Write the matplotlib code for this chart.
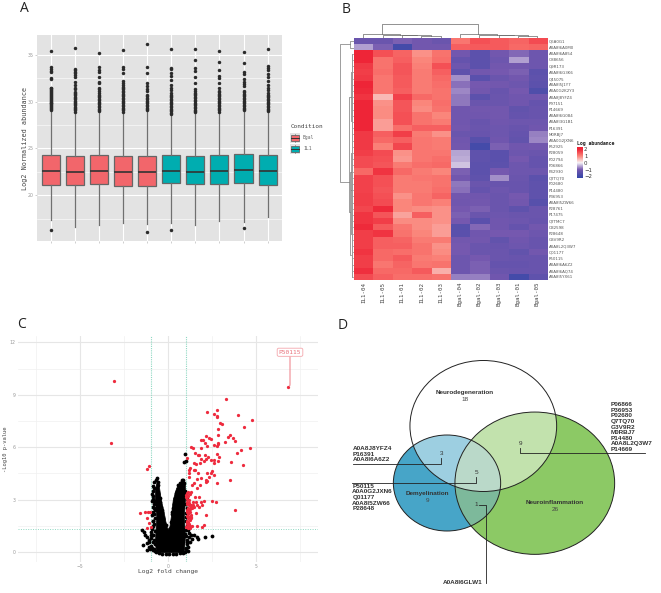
import matplotlib
matplotlib.use("Agg")
import numpy as np
import matplotlib.pyplot as plt
from matplotlib.colors import LinearSegmentedColormap, Normalize
from matplotlib.patches import Ellipse, Rectangle

W, H = 661, 593
MONO = "DejaVu Sans Mono"
SANS = "Liberation Sans"

# --- A: boxplots ---
box_names = ["Bgal"] * 5 + ["IL1"] * 5
box_q1 = [21.07, 21.07, 21.24, 21.03, 21.0, 21.3, 21.17, 21.2, 21.35, 21.14]
box_med = [22.6, 22.52, 22.63, 22.49, 22.45, 22.63, 22.45, 22.56, 22.7, 22.56]
box_q3 = [24.27, 24.23, 24.34, 24.2, 24.2, 24.27, 24.2, 24.27, 24.4, 24.27]
box_lo = [17.37, 16.66, 16.85, 17.0, 16.95, 17.1, 16.85, 17.3, 17.2, 17.65]
box_hi = [29.0, 28.85, 28.95, 28.85, 28.95, 28.6, 28.75, 28.75, 29.05, 28.85]
box_out = [
    [35.4, 33.7, 33.5, 33.3, 33.2, 32.5, 32.4, 31.5, 31.4, 31.3, 31.2, 31.1, 31.0, 30.9, 30.8, 30.7, 30.6, 30.5,
     30.4, 30.3, 30.2, 30.1, 30.0, 29.9, 29.8, 29.7, 29.6, 29.5, 29.4, 29.3, 29.2, 29.1, 16.27],
    [35.75, 33.45, 33.35, 33.2, 33.1, 32.85, 32.6, 32.1, 31.8, 31.5, 31.3, 31.05, 30.9, 30.8, 30.65, 30.5, 30.4,
     30.25, 30.1, 30.0, 29.85, 29.7, 29.6, 29.45, 29.3, 29.2, 29.05, 28.9],
    [35.2, 33.7, 33.35, 33.2, 32.65, 32.1, 31.95, 31.5, 31.3, 31.15, 30.9, 30.75, 30.6, 30.45, 30.3, 30.15, 30.0,
     29.85, 29.7, 29.55, 29.4, 29.25, 29.1, 29.0],
    [35.5, 33.65, 33.45, 33.1, 32.2, 31.95, 31.75, 31.6, 31.45, 31.3, 31.15, 31.0, 30.85, 30.7, 30.55, 30.4, 30.25,
     30.1, 29.95, 29.8, 29.65, 29.5, 29.35, 29.2, 29.05, 28.9],
    [36.1, 33.7, 33.1, 32.0, 31.65, 31.3, 31.1, 30.7, 30.55, 30.4, 30.25, 30.1, 29.95, 29.8, 29.65, 29.5, 29.35,
     29.2, 29.05, 16.1],
    [35.65, 33.6, 33.45, 33.1, 32.7, 32.3, 31.75, 31.5, 31.25, 30.9, 30.75, 30.6, 30.45, 30.3, 30.15, 30.0, 29.85,
     29.7, 29.55, 29.4, 29.25, 29.1, 28.95, 28.8, 28.65, 16.27],
    [35.65, 34.4, 33.55, 33.3, 32.65, 31.95, 31.35, 31.15, 30.95, 30.8, 30.65, 30.5, 30.35, 30.2, 30.05, 29.9, 29.75,
     29.6, 29.45, 29.3, 29.15, 29.0, 28.85],
    [35.4, 34.25, 33.35, 32.7, 32.55, 32.0, 31.45, 31.15, 31.0, 30.85, 30.7, 30.55, 30.4, 30.25, 30.1, 29.95, 29.8,
     29.65, 29.5, 29.35, 29.2, 29.05, 28.9],
    [35.25, 34.1, 33.2, 32.95, 32.4, 32.1, 31.9, 31.65, 31.15, 31.0, 30.85, 30.7, 30.55, 30.4, 30.25, 30.1, 29.95,
     29.8, 29.65, 29.5, 29.35, 29.2, 29.1, 16.55],
    [35.65, 33.8, 33.55, 33.35, 32.95, 32.65, 32.2, 31.75, 31.5, 31.25, 30.9, 30.75, 30.6, 30.45, 30.3, 30.15, 30.0,
     29.85, 29.7, 29.55, 29.4, 29.25, 29.1, 28.95],
]
box_colors = {"Bgal": "#F2666B", "IL1": "#00ADB0"}

# --- B: heatmap ---
heat_cols = ["IL1-04", "IL1-05", "IL1-01", "IL1-02", "IL1-03", "Bgal-04", "Bgal-02", "Bgal-03", "Bgal-01", "Bgal-05"]
heat_rows = ["Q6A0G1", "A0A8I6A0M0", "A0A8I6A854", "O88656", "Q9R173", "A0A8I6G3K6", "Q45075", "A0A8I5J1Y7",
             "A0A0G2K2Y3", "A0A8J8YFZ4", "P97151", "P14669", "A0A8I6G084", "A0A8I3G1B1", "P16391", "M0RBJ7",
             "A0A0G2JXN6", "P52925", "P28059", "P02794", "P06866", "P42930", "Q7TQ70", "P02680", "P14480", "P36953",
             "A0A8I5ZW66", "P28761", "P17475", "Q7TMC7", "O32598", "P28648", "G3V9R2", "A0A8L2Q3W7", "Q01177",
             "P50115", "A0A8I6A6Z2", "A0A8I6AQ74", "A0A8I5YX61"]
heat_vals = [
    [-1.2, -1.2, -0.95, -1.05, -1.2, 1.1, 1.5, 1.4, 1.3, 1.55],
    [-0.55, -0.95, -1.9, -1.05, -1.05, 1.35, 1.4, 1.4, 1.25, 1.3],
    [1.95, 1.5, 1.3, 0.85, 1.15, -1.05, -1.45, -1.05, -0.9, -1.15],
    [1.95, 1.15, 1.35, 0.95, 1.2, -1.3, -1.45, -1.15, -0.55, -1.15],
    [1.75, 1.15, 1.45, 1.0, 1.5, -1.15, -1.45, -1.05, -1.05, -1.15],
    [1.7, 1.2, 1.45, 1.05, 1.35, -1.4, -1.05, -1.0, -0.95, -1.45],
    [1.75, 1.1, 1.4, 1.05, 1.25, -0.65, -1.5, -1.2, -1.05, -1.4],
    [1.95, 1.1, 1.4, 1.05, 1.2, -0.85, -1.0, -1.05, -1.15, -1.45],
    [1.9, 1.1, 1.35, 1.05, 1.15, -0.7, -1.05, -1.25, -1.0, -1.7],
    [1.8, 0.5, 1.65, 1.25, 1.15, -0.8, -1.45, -1.2, -1.1, -1.1],
    [1.95, 0.85, 1.45, 0.95, 1.2, -0.8, -1.2, -1.2, -1.1, -1.3],
    [1.95, 0.9, 1.45, 0.9, 1.15, -1.1, -1.05, -1.05, -1.35, -1.25],
    [1.95, 0.9, 1.5, 1.15, 0.95, -1.1, -1.1, -1.05, -1.3, -1.25],
    [1.95, 0.75, 1.5, 1.15, 1.05, -1.1, -1.25, -1.1, -1.15, -1.15],
    [1.95, 0.75, 1.2, 1.35, 1.35, -1.05, -1.2, -1.15, -1.25, -1.1],
    [1.75, 1.35, 1.7, 1.05, 0.85, -1.2, -1.25, -1.15, -1.3, -0.75],
    [1.75, 1.25, 1.35, 1.1, 1.05, -1.1, -1.55, -1.1, -1.35, -0.7],
    [1.75, 1.0, 1.6, 1.1, 1.05, -1.05, -1.9, -0.95, -1.1, -1.05],
    [1.7, 1.55, 0.85, 1.1, 1.1, -0.5, -1.4, -1.5, -1.15, -1.2],
    [1.55, 1.5, 0.8, 1.1, 1.2, -0.45, -1.4, -1.5, -1.0, -1.3],
    [1.55, 1.45, 1.05, 1.2, 1.25, -0.3, -1.45, -1.45, -1.15, -1.3],
    [1.25, 1.8, 1.25, 1.05, 0.95, -0.95, -1.45, -1.0, -1.15, -1.15],
    [1.65, 1.5, 1.05, 1.1, 1.15, -1.05, -1.4, -0.65, -1.2, -1.45],
    [1.65, 1.5, 1.05, 1.05, 1.15, -0.8, -1.2, -1.25, -1.25, -1.4],
    [1.65, 1.45, 1.05, 1.05, 1.2, -0.85, -1.3, -1.15, -1.25, -1.4],
    [1.7, 1.5, 0.85, 1.1, 1.3, -1.05, -1.1, -1.2, -1.0, -1.4],
    [1.7, 1.55, 0.95, 1.1, 1.0, -1.1, -1.05, -1.2, -1.05, -1.55],
    [1.6, 1.9, 0.95, 0.9, 0.85, -1.0, -0.95, -1.2, -1.4, -1.2],
    [1.8, 1.45, 0.7, 1.35, 0.85, -0.95, -1.2, -1.15, -1.2, -1.2],
    [1.8, 1.7, 0.9, 0.9, 0.85, -1.0, -1.5, -1.1, -1.15, -1.25],
    [1.9, 1.4, 1.1, 0.9, 0.75, -1.55, -0.9, -1.1, -1.3, -1.05],
    [1.7, 1.8, 1.15, 0.95, 0.75, -1.5, -1.1, -1.0, -1.0, -1.15],
    [1.7, 1.35, 1.3, 1.05, 1.05, -1.05, -1.05, -1.35, -1.1, -1.25],
    [1.7, 1.35, 1.35, 1.15, 0.85, -1.0, -1.2, -1.25, -1.15, -1.25],
    [1.8, 1.25, 1.2, 1.15, 0.9, -1.0, -1.2, -1.2, -1.35, -1.05],
    [1.7, 1.25, 1.4, 1.05, 1.0, -1.15, -1.0, -1.2, -1.25, -1.25],
    [1.7, 1.1, 1.3, 1.1, 1.15, -1.15, -0.95, -1.3, -1.3, -1.25],
    [1.85, 1.25, 1.25, 1.4, 0.6, -1.15, -0.95, -1.2, -1.25, -1.25],
    [1.55, 1.35, 1.2, 1.2, 1.15, -0.75, -0.75, -1.1, -1.9, -1.4],
]
legend_ticks = [2, 1, 0, -1, -2]

# column tree: left x, left height, right x, right height, merge height
col_tree = [
    (3.5, 0, 4.5, 0, 2.2), (2.5, 0, 4.0, 2.2, 3.0), (1.5, 0, 3.25, 3.0, 3.5), (0.5, 0, 2.4, 3.5, 4.2),
    (8.5, 0, 9.5, 0, 1.8), (7.5, 0, 9.0, 1.8, 2.6), (6.5, 0, 8.3, 2.6, 2.9), (5.5, 0, 7.4, 2.9, 4.0),
    (1.45, 4.2, 6.45, 4.0, 14.5),
]
# row tree: top row, top depth, bottom row, bottom depth, merge depth
row_tree = [
    (0.5, 0, 1.5, 0, 3.5), (2.5, 1.5, 8.5, 1.5, 2.2), (8.5, 1.5, 18, 1.5, 2.0), (18.5, 1.5, 24.5, 1.5, 2.4),
    (24.5, 1.5, 31.5, 1.5, 2.6), (31.5, 1.5, 38.5, 1.5, 2.2), (5.5, 2.2, 13.3, 2.0, 3.2), (21.5, 2.4, 35, 2.6, 3.6),
    (9.4, 3.2, 28, 3.6, 4.6), (1.0, 3.5, 23.2, 4.6, 14.2),
]

# --- C: volcano ---
red_x = [-3.07, -3.28, 6.78, 3.28, 2.78, 2.2, 2.58, 2.78, 2.78, 3.98, 4.75, 2.94, 3.03, 4.32, 2.82, 2.82, 2.14, 2.33,
         2.42, 1.86, 1.95, 3.52, 3.39, 3.66, 3.81, 3.2, 2.84, 2.84, 2.78, 2.61, 2.06, 2.22, 1.84, 1.31, 1.42, 4.64,
         4.11, 3.88, 1.53, 1.69, 1.76, 2.78, 2.86, 2.1, 2.23, 1.08, 1.88, 2.14, 2.05, 2.44, 2.58, 2.82, 3.54, 1.48,
         1.57, 1.82, 2.61, 4.24, 1.25, 1.16, 1.44, 1.5, 2.48, 1.19, 1.7, 2.18, 2.4, 2.58, 1.16, 1.61, 1.84, 2.33,
         2.14, 2.22, 2.14, 3.48, 1.48, 2.78, 1.36, 1.8, 1.61, 1.27, 1.14, 1.04, 1.23, 1.1, 1.0, 1.76, 1.52, 2.5,
         2.73, 2.03, 1.04, 1.19, 1.38, 1.57, 1.86, 1.16, 1.27, 1.44, 1.61, 1.74, 1.89, 1.23, 3.81, 1.04, 1.14, 1.27,
         1.57, 2.12, 1.1, 1.23, 1.08, 1.33, 1.65, 1.89, 2.0, 1.1, 1.23, -1.61, -1.33, -1.14, -1.04, -1.19, -1.1,
         -1.23, -1.0, -1.12, -1.19,
         1.03, 1.08, 1.15, 1.06, 1.2, 1.12, 1.3, 1.05, 1.18, 1.36, 1.1, 1.25, 1.04, 1.16, 1.3, 1.07, 1.2, 1.42,
         1.06, 1.14, 1.28, 1.03, 1.12, 1.22]
red_y = [9.79, 6.22, 9.43, 8.74, 8.13, 8.03, 7.9, 7.75, 7.79, 7.84, 7.58, 7.37, 7.35, 7.14, 7.06, 6.7, 6.66, 6.53,
         6.45, 6.41, 6.43, 6.7, 6.6, 6.53, 6.37, 6.28, 6.26, 6.16, 6.09, 6.13, 6.26, 6.07, 5.97, 6.01, 5.97, 5.93,
         5.82, 5.69, 5.69, 5.57, 5.53, 5.61, 5.46, 5.53, 5.46, 5.4, 5.34, 5.31, 5.23, 5.29, 5.25, 5.21, 5.13, 5.11,
         5.02, 5.1, 5.08, 4.98, 4.83, 4.69, 4.69, 4.69, 4.66, 4.5, 4.5, 4.52, 4.5, 4.43, 4.31, 4.2, 4.24, 4.27,
         4.12, 4.05, 4.0, 4.1, 3.97, 3.93, 3.84, 3.82, 3.65, 3.45, 3.42, 3.36, 3.32, 3.21, 3.17, 3.13, 3.17, 2.92,
         2.84, 2.94, 2.88, 2.82, 2.88, 2.88, 2.84, 2.69, 2.6, 2.6, 2.71, 2.56, 2.69, 2.46, 2.4, 2.31, 2.21, 2.14,
         2.21, 2.1, 1.93, 1.83, 1.7, 1.49, 1.49, 1.45, 1.55, 1.49, 1.35, 2.25, 2.31, 2.27, 2.27, 1.97, 1.64, 1.35,
         1.41, 4.92, 4.77,
         3.25, 3.05, 2.98, 2.75, 2.75, 2.55, 2.72, 2.4, 2.42, 2.55, 2.15, 2.28, 2.05, 1.98, 2.02, 1.75, 1.62, 2.7,
         1.58, 1.72, 1.95, 1.42, 1.38, 1.5]
black_x = [-0.9, -0.85, -0.8, -0.66, -0.72, -0.6, -0.86, -0.95, -0.8, -0.85, -0.78, -0.95, -0.85, -0.9, -0.95, -1.0,
           -1.5, -1.4, -1.3, -1.2, -1.1, -1.45, -1.2, -1.0, -1.05, -0.9, -0.85, -0.8, -0.75, 0.95, 0.91, 0.98, 0.75,
           0.85, 0.9, 0.65, 0.55, 0.95, 0.5, 1.0, 1.05, 1.1, 1.0, 1.2, 1.3, 1.45, 1.6, 2.08, 2.46, 1.7, 1.25, 1.35,
           1.15, 1.1,
           -0.82, -0.92, -0.88, -0.79, -0.84, -0.9, -0.8, -0.76, -0.86, -0.82, -0.92, -0.78, -0.98, -0.88, -0.96,
           -0.84, -1.08, -0.78, -1.12, -0.92, -1.22, -0.86, -0.56, -0.5, -0.44, -0.36, -0.3, -0.24, -0.16, -0.58,
           -0.46, -0.34, 0.14, 0.22, 0.3, 0.38, 0.46, 0.58, 0.66, 0.36, 0.26, 0.2,
           1.02, 1.04, 0.98, 1.06, 1.0, 1.03, 0.99, 1.05, 1.02, 0.97, 1.08, 1.04, 1.0, 1.12,
           -0.55, -0.35, -0.15, 0.05, 0.25, 0.45, 0.65, 0.82, -0.68, 0.96]
black_y = [3.5, 3.8, 4.0, 4.24, 4.15, 4.0, 3.2, 2.95, 2.9, 2.6, 2.4, 2.1, 1.8, 1.5, 1.3, 1.0, 1.25, 1.15, 1.0, 0.85,
           0.7, 0.4, 0.5, 0.35, 0.15, 0.6, 1.0, 0.2, 0.05, 5.59, 5.17, 5.23, 4.1, 4.15, 3.95, 3.7, 3.85, 3.5, 3.5,
           0.9, 0.6, 0.3, 0.15, 0.85, 1.0, 0.95, 0.85, 0.84, 0.92, 0.72, 0.55, 0.75, 1.1, 1.25,
           3.65, 3.35, 3.05, 2.75, 2.5, 2.3, 2.15, 1.95, 1.75, 1.6, 1.4, 1.2, 1.15, 0.95, 0.8, 0.7, 0.55, 0.45, 0.3,
           0.25, 0.12, 0.1, 3.3, 3.1, 2.6, 2.3, 1.9, 1.65, 1.55, 3.85, 2.85, 2.4, 1.7, 2.3, 2.75, 3.1, 3.4, 3.2,
           3.95, 3.0, 2.55, 2.2,
           3.3, 3.05, 2.75, 2.5, 2.25, 2.0, 1.75, 1.5, 1.25, 1.05, 0.7, 0.45, 0.25, 0.05,
           -0.08, -0.1, -0.1, -0.1, -0.1, -0.1, -0.08, -0.06, 0.02, 0.03]
# outline of the solid part of the cloud
cloud_x = [-0.66, -0.74, -0.7, -0.66, -0.74, -0.74, -0.63, -0.51, -0.4, -0.19, -0.09, 0.0, 0.09, 0.17, 0.28, 0.47,
           0.76, 0.97, 0.97, 0.91, 0.97, 0.91]
cloud_y = [-0.04, 0.5, 1.26, 2.02, 2.98, 3.55, 4.03, 3.74, 2.98, 2.02, 1.45, 1.3, 1.45, 2.02, 2.98, 3.65, 4.08, 3.93,
           2.98, 2.02, 0.88, -0.04]
fc_cut = 1.0
p_cut = 1.3

# --- D: venn ---
venn_names = ["Neurodegeneration", "Demyelination", "Neuroinflammation"]
venn_counts = [18, 9, 26]
ids_3 = ["A0A8J8YFZ4", "P16391", "A0A8I6A6Z2"]
ids_5 = ["P50115", "A0A0G2JXN6", "Q01177", "A0A8I5ZW66", "P28648"]
ids_9 = ["P06866", "P36953", "P02680", "Q7TQ70", "G3V9R2", "M0RBJ7", "P14480", "A0A8L2Q3W7", "P14669"]
ids_1 = ["A0A8I6GLW1"]


def px_axes(x0, y0, x1, y1):
    return fig.add_axes([x0 / W, 1 - y1 / H, (x1 - x0) / W, (y1 - y0) / H])


fig = plt.figure(figsize=(W / 100, H / 100), dpi=100)

# overlay in pixel units, for letters, legends and the venn
ov = fig.add_axes([0, 0, 1, 1], zorder=5)
ov.set_xlim(0, W)
ov.set_ylim(H, 0)
ov.axis("off")
ov.patch.set_alpha(0)

for letter, lx, ly in [("A", 20, 12), ("B", 342, 13), ("C", 17, 328), ("D", 338, 329)]:
    ov.text(lx, ly, letter, fontsize=10, family="Open Sans", color="#222222", va="baseline")

# A
ax = px_axes(37, 35, 282, 241)
ax.set_facecolor("#E3E3E3")
stats = []
for i in range(10):
    stats.append({"q1": box_q1[i], "med": box_med[i], "q3": box_q3[i], "whislo": box_lo[i], "whishi": box_hi[i],
                  "fliers": box_out[i]})
parts = ax.bxp(stats, positions=np.arange(1, 11), widths=0.75, patch_artist=True, showcaps=False,
               boxprops=dict(edgecolor="#666666", linewidth=0.9),
               whiskerprops=dict(color="#707070", linewidth=0.9),
               medianprops=dict(color="#333333", linewidth=1.2),
               flierprops=dict(marker="o", markersize=2.5, markerfacecolor="#2b2b2b", markeredgecolor="#2b2b2b",
                               markeredgewidth=0))
for patch, name in zip(parts["boxes"], box_names):
    patch.set_facecolor(box_colors[name])
ax.set_xlim(0.417, 10.6)
ax.set_ylim(15.13, 37.1)
ax.set_xticks(np.arange(1, 11))
ax.set_xticklabels([])
ax.set_yticks([20, 25, 30, 35])
ax.set_yticks([17.5, 22.5, 27.5, 32.5], minor=True)
ax.grid(True, which="major", color="white", linewidth=0.8)
ax.grid(True, which="minor", axis="y", color="white", linewidth=0.4)
ax.set_axisbelow(True)
ax.tick_params(axis="both", which="major", length=1.5, width=0.4, color="#aaaaaa", labelsize=3.4,
               labelcolor="#999999", pad=1)
ax.tick_params(axis="both", which="minor", length=0)
ax.set_ylabel("Log2 Normalized abundance", fontsize=4.9, family=MONO, color="#444444", labelpad=-0.5)
for s in ax.spines.values():
    s.set_visible(False)

ov.text(290.7, 126, "Condition", fontsize=4.3, family=MONO, color="#444444", va="center")
for (key_y, name) in [(133, "Bgal"), (144, "IL1")]:
    ov.add_patch(Rectangle((290, key_y), 10, 9.5, fc="#E3E3E3", ec="none"))
    ov.plot([295, 295], [key_y + 0.5, key_y + 9], color="#777777", lw=0.5)
    ov.add_patch(Rectangle((291.2, key_y + 2), 7.6, 5.5, fc=box_colors[name], ec="#666666", lw=0.6, zorder=3))
    ov.plot([291.2, 298.8], [key_y + 4.75, key_y + 4.75], color="#333333", lw=0.7, zorder=4)
    ov.text(303, key_y + 4.75, name, fontsize=3.4, family=MONO, color="#666666", va="center")

# B
heat_cmap = LinearSegmentedColormap.from_list(
    "heat", [(0.0, "#3547A8"), (0.27, "#7558AF"), (0.5, "#F7F3F7"), (0.72, "#FB857A"), (0.95, "#EE2336"),
             (1.0, "#EE2336")])
heat_norm = Normalize(vmin=-2.2, vmax=2.2)
hm = px_axes(353.8, 38.3, 547, 280)
hm.imshow(np.array(heat_vals), cmap=heat_cmap, norm=heat_norm, aspect="auto", interpolation="nearest",
          extent=(0, 10, 39, 0))
hm.set_xticks(np.arange(10) + 0.5)
hm.set_xticklabels(heat_cols, rotation=90, fontsize=4.2, family=MONO, color="#444444")
hm.set_yticks(np.arange(39) + 0.5)
hm.set_yticklabels(heat_rows, fontsize=2.9, color="#555555")
hm.yaxis.tick_right()
hm.tick_params(length=0, pad=1.2)
for s in hm.spines.values():
    s.set_visible(False)

top = px_axes(353.8, 22, 547, 38)
top.set_xlim(0, 10)
top.set_ylim(0, 16)
top.axis("off")
for xl, hl, xr, hr, h in col_tree:
    top.plot([xl, xl, xr, xr], [hl, h, h, hr], color="#666666", lw=0.5)

side = px_axes(338.5, 38.3, 353.8, 280)
side.set_xlim(15.3, 0)
side.set_ylim(39, 0)
side.axis("off")
for ra, da, rb, db, d in row_tree:
    side.plot([da, d, d, db], [ra, ra, rb, rb], color="#777777", lw=0.5)
for r in range(2, 39):
    side.plot([0, 1.5], [r + 0.5, r + 0.5], color="#999999", lw=0.5)
side.plot([1.5, 1.5], [2.5, 38.5], color="#999999", lw=0.7)

cb = px_axes(577.3, 147.3, 582.7, 177.7)
legend_vals = np.linspace(2.25, -2.2, 60).reshape(-1, 1)
cb.imshow(legend_vals, cmap=heat_cmap, norm=heat_norm, aspect="auto", extent=(0, 1, -2.2, 2.25))
cb.set_xticks([])
cb.set_yticks(legend_ticks)
cb.set_yticklabels([str(t).replace("-", "\u2212") for t in legend_ticks], fontsize=3.9, color="#333333")
cb.yaxis.tick_right()
cb.tick_params(length=0, pad=1)
for s in cb.spines.values():
    s.set_visible(False)
ov.text(577.3, 143, "Log abundance", fontsize=3.5, family=MONO, fontweight="bold", color="#222222", va="center")

# C
vo = px_axes(18, 336, 318, 561.7)
vo.set_xlim(-8.54, 8.5)
vo.set_ylim(-0.55, 12.36)
vo.set_xticks([-5, 0, 5])
vo.set_xticks([-7.5, -2.5, 2.5, 7.5], minor=True)
vo.set_yticks([0, 3, 6, 9, 12])
vo.set_yticks([1.5, 4.5, 7.5, 10.5], minor=True)
vo.grid(True, which="major", color="#E6E6E6", linewidth=0.8)
vo.grid(True, which="minor", color="#F0F0F0", linewidth=0.5)
vo.set_axisbelow(True)
vo.tick_params(which="both", length=0)
vo.tick_params(labelsize=3.3, labelcolor="#999999", pad=1.5)
for s in vo.spines.values():
    s.set_visible(False)
# threshold lines sit behind the points
for v in (-fc_cut, fc_cut):
    vo.axvline(v, color="#8FD8C2", lw=0.8, ls=(0, (1, 1)), zorder=1.5)
vo.axhline(p_cut, color="#8FD8C2", lw=0.7, ls=(0, (1, 1.5)), zorder=1.5)
vo.fill(cloud_x, cloud_y, color="black", lw=0.5, zorder=2)
vo.scatter(black_x, black_y, s=7.5, color="black", linewidths=0, zorder=2)
vo.scatter(red_x, red_y, s=5.5, color="#EE2B3E", linewidths=0, zorder=3)
vo.annotate("P50115", xy=(red_x[2], red_y[2]), xytext=(6.91, 11.43), fontsize=4.5, family=MONO, color="#E8707A",
            ha="center", va="center", zorder=6,
            bbox=dict(boxstyle="round,pad=0.25", fc="white", ec="#F4A6AC", lw=0.6),
            arrowprops=dict(arrowstyle="-", color="#F08A92", lw=0.8, shrinkA=0, shrinkB=1.5,
                            connectionstyle="angle,angleA=90,angleB=0,rad=3"))
vo.set_xlabel("Log2 fold change", fontsize=4.5, family=MONO, color="#444444", labelpad=0.5)
vo.set_ylabel("-Log10 p-value", fontsize=3.9, family=MONO, color="#444444", labelpad=1.5)

# D
blue = Ellipse((447, 483), 107.3, 96, fc="#47A5C8", ec="none")
green = Ellipse((534.8, 483.2), 159.7, 142.3, fc="#8CC965", ec="none")
ov.add_patch(blue)
ov.add_patch(green)
both = Ellipse((534.8, 483.2), 159.7, 142.3, fc="#7DB99B", ec="none")
ov.add_patch(both)
both.set_clip_path(Ellipse((447, 483), 107.3, 96, transform=ov.transData))
ov.add_patch(Ellipse((483.3, 426), 146.7, 131, fc=(1, 1, 1, 0.47), ec="none"))
for cx, cy, ew, eh in [(447, 483, 107.3, 96), (534.8, 483.2, 159.7, 142.3), (483.3, 426, 146.7, 131)]:
    ov.add_patch(Ellipse((cx, cy), ew, eh, fc="none", ec="#222222", lw=0.7, zorder=3))

for name, n, tx, ty in zip(venn_names, venn_counts, [464.7, 427, 555], [392.7, 494, 502.7]):
    ov.text(tx, ty, name, fontsize=4.6, family=SANS, fontweight="bold", color="#333333", ha="center", va="center",
            zorder=4)
    ov.text(tx, ty + 6.7, str(n), fontsize=4.6, family=SANS, color="#444444", ha="center", va="center", zorder=4)

for n, tx, ty in [(3, 441.3, 453.3), (5, 476.3, 472.7), (9, 520.3, 443.7), (1, 476.3, 505)]:
    ov.text(tx, ty, str(n), fontsize=4.6, family=SANS, color="#333333", ha="center", va="center", zorder=4)

ov.plot([441.3, 441.3, 353.3], [458.3, 464, 464], color="#222222", lw=0.6, zorder=4)
ov.plot([476.3, 476.3, 352.3], [477.3, 482.7, 482.7], color="#222222", lw=0.6, zorder=4)
ov.plot([520.3, 520.3, 644.7], [448.3, 453.3, 453.3], color="#222222", lw=0.6, zorder=4)
ov.plot([479.3, 485.7, 485.7], [505, 505, 583.3], color="#222222", lw=0.6, zorder=4)

id_style = dict(fontsize=4.6, family=SANS, fontweight="bold", color="#333333", va="center", zorder=4)
for i, name in enumerate(ids_3):
    ov.text(353, 448.3 + i * 5.7, name, **id_style)
for i, name in enumerate(ids_5):
    ov.text(352.3, 486 + i * 5.67, name, **id_style)
for i, name in enumerate(ids_9):
    ov.text(611, 404.7 + i * 5.58, name, **id_style)
ov.text(482.7, 582, ids_1[0], ha="right", **id_style)

fig.savefig("out.png", dpi=100)
